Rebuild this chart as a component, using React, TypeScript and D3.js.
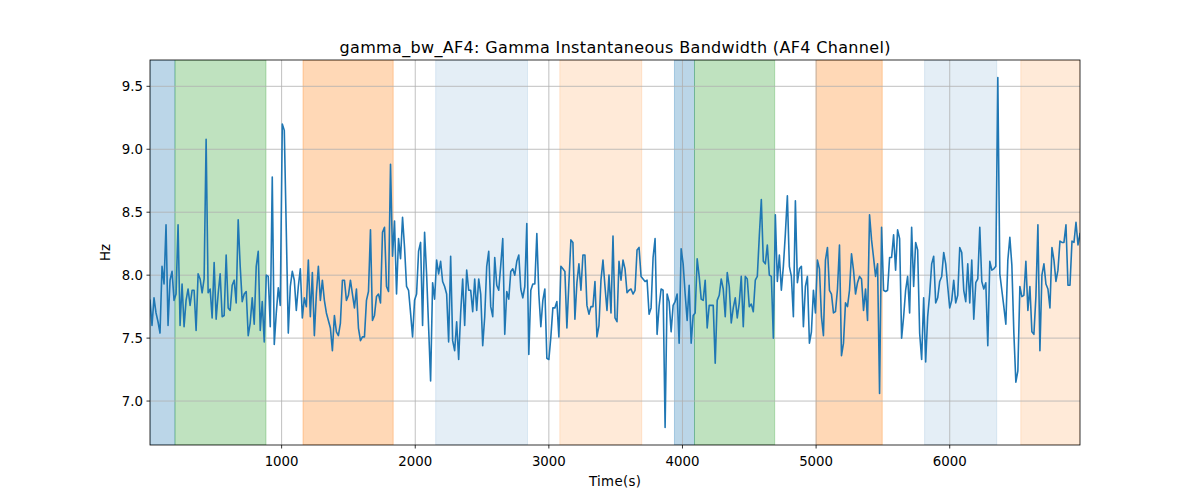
import React from 'react';
import * as d3 from 'd3';

// Gamma instantaneous bandwidth values (Hz), evenly sampled
const values: number[] = [
  7.80, 7.60, 7.82, 7.70, 7.63, 7.54, 8.07, 7.93, 8.40, 7.60, 7.96, 8.03, 7.80, 7.85, 8.40, 7.60, 7.93, 7.59, 7.80, 7.89,
  7.76, 7.88, 7.88, 7.56, 8.01, 7.97, 7.86, 7.97, 9.08, 7.86, 7.89, 7.66, 8.10, 7.65, 7.85, 8.01, 7.67, 7.68, 8.16, 7.74,
  7.72, 7.92, 7.96, 7.78, 8.44, 8.07, 7.79, 7.85, 7.87, 7.52, 7.62, 7.82, 7.61, 8.07, 8.19, 7.56, 7.79, 7.47, 8.00, 7.99,
  7.59, 8.78, 7.45, 7.70, 7.90, 7.76, 9.20, 9.15, 8.35, 7.54, 7.91, 8.03, 7.96, 7.72, 7.91,
  8.05, 7.66, 7.82, 7.75, 8.12, 7.67, 8.02, 7.52, 7.85, 8.07, 7.80, 7.96, 7.80, 7.70, 7.64, 7.58, 7.40, 7.68, 7.55, 7.52,
  7.62, 7.96, 7.96, 7.80, 7.84, 7.96, 7.85, 7.74, 7.89, 7.58, 7.48, 7.51, 7.51, 7.80, 7.87, 8.36, 7.64, 7.68, 7.83, 7.85,
  7.78, 8.34, 8.38, 7.91, 7.87, 8.88, 8.15, 8.43, 7.85, 8.29, 8.13, 8.46, 8.22, 7.91, 7.88, 7.70, 7.51, 7.80, 7.85, 8.19,
  8.26, 7.60, 8.34, 8.01, 7.59, 7.16, 7.94, 7.81, 8.12, 8.01, 8.11, 7.95, 7.91, 7.85, 7.47, 8.15, 7.48,
  7.40, 7.63, 7.33, 7.70, 7.97, 7.60, 8.04, 7.88, 7.88, 7.71, 7.97, 7.72, 7.97, 7.85, 7.44, 7.67, 8.07, 8.19, 7.75, 7.67,
  8.14, 7.92, 7.88, 8.08, 8.29, 7.53, 7.87, 7.81, 8.03, 8.05, 8.00, 8.11, 8.16, 7.89, 7.82, 7.91, 8.41, 7.37, 7.88, 7.93,
  7.93, 8.33, 7.85, 7.59, 7.80, 7.89, 7.34, 7.33, 7.51, 7.74, 7.74, 7.79, 7.51, 8.07, 8.05, 8.03, 7.58, 7.94, 8.28, 8.26,
  7.65, 7.94, 8.09, 7.88, 8.16, 8.16, 7.76, 7.69, 7.75, 7.75, 7.95, 7.51, 7.60, 7.96, 8.12, 7.91, 7.72, 8.00, 7.70,
  8.31, 7.66, 7.63, 8.11, 7.96, 8.12, 8.05, 7.86, 7.88, 7.89, 7.85, 7.88, 8.20, 8.22, 7.99, 7.97, 7.95, 7.96, 7.69, 7.74,
  8.14, 8.29, 7.53, 7.75, 7.89, 7.88, 6.79, 7.85, 7.79, 7.55, 7.76, 7.79, 7.85, 7.46, 8.21, 8.09, 7.85, 7.64, 7.92, 7.46,
  7.68, 7.70, 8.13, 7.99, 7.81, 7.80, 7.96, 7.58, 7.76, 7.76, 7.76, 7.30, 7.80, 7.84, 7.97, 7.89, 7.67, 8.02, 7.91, 7.62,
  7.74, 7.82, 7.66, 7.78, 7.99, 7.59, 7.99, 7.97, 7.75, 7.77, 7.71, 7.96, 7.99, 8.31, 8.60, 8.11, 8.09,
  8.24, 8.00, 7.99, 7.50, 8.48, 7.95, 8.16, 7.88, 8.07, 8.33, 8.63, 8.07, 7.99, 7.67, 8.59, 7.94, 8.05, 8.07, 7.59, 7.91,
  7.99, 7.46, 7.55, 7.88, 7.70, 8.12, 8.05, 7.67, 7.52, 8.12, 8.22, 7.88, 7.85, 7.70, 7.71, 7.89, 8.24, 7.36, 7.46, 7.78,
  7.75, 7.88, 8.17, 8.04, 7.85, 7.94, 7.99, 7.97, 7.72, 7.89, 7.64, 8.48, 8.28, 8.14, 7.99, 8.09, 7.06, 8.38, 7.88, 7.87,
  7.88, 8.14, 8.14, 8.32, 8.04, 8.36, 8.29, 7.50, 7.67, 7.88, 7.99, 7.70, 8.38, 7.91, 8.26, 8.20, 7.54, 7.33, 7.82,
  7.31, 7.67, 7.85, 8.09, 8.15, 7.78, 7.82, 7.95, 7.99, 8.18, 8.09, 7.91, 7.74, 7.80, 7.96, 7.78, 7.84, 8.22, 8.18, 7.88,
  7.79, 8.09, 7.78, 8.12, 7.65, 7.94, 7.97, 8.38, 7.95, 7.89, 7.94, 7.44, 8.11, 8.04, 8.05, 8.07, 9.57, 8.01, 7.88, 7.75,
  7.61, 8.12, 8.30, 8.08, 7.54, 7.15, 7.24, 7.91, 7.83, 7.84, 8.11, 7.72, 7.91, 7.55, 7.53, 7.83, 8.40, 7.40, 8.00, 8.09,
  7.93, 7.89, 7.74, 8.22, 8.12, 7.95, 8.04, 8.27, 8.26, 8.26, 8.40, 7.92, 7.92, 8.27, 8.26, 8.42, 8.24, 8.33,
];
const startTime = 15;
const sampleStep = 15;
const times: number[] = values.map((_, i) => startTime + i * sampleStep);

// Shaded spans
const spanStarts = [15, 202, 1160, 2153, 3082, 3940, 4090, 5000, 5812, 6532];
const spanEnds = [202, 883, 1835, 2840, 3695, 4090, 4690, 5495, 6352, 6990];
const spanColors = ['#1f77b4', '#2ca02c', '#ff7f0e', '#1f77b4', '#ff7f0e', '#1f77b4', '#2ca02c', '#ff7f0e', '#1f77b4', '#ff7f0e'];
const spanAlphas = [0.3, 0.3, 0.3, 0.12, 0.16, 0.3, 0.3, 0.3, 0.12, 0.16];

const xTicks = [1000, 2000, 3000, 4000, 5000, 6000];
const yTicks = [7.0, 7.5, 8.0, 8.5, 9.0, 9.5];

const title = 'gamma_bw_AF4: Gamma Instantaneous Bandwidth (AF4 Channel)';
const xLabel = 'Time(s)';
const yLabel = 'Hz';

export default function App() {
  const W = 1200, H = 500;
  const L = 150, R = 1080, T = 60, B = 445;
  const x = d3.scaleLinear().domain([times[0], times[times.length - 1]]).range([L, R]);
  const y = d3.scaleLinear().domain([6.651, 9.709]).range([B, T]);
  const line = d3.line<number>().x((_, i) => x(times[i])).y((d) => y(d));
  const font = '"DejaVu Sans", sans-serif';
  const clampX = (v: number) => Math.max(L, Math.min(R, x(v)));

  return (
    <svg width={W} height={H} style={{ position: 'absolute', left: 0, top: 0, background: '#fff' }}>
      <defs>
        <clipPath id="plotclip">
          <rect x={L} y={T} width={R - L} height={B - T} />
        </clipPath>
      </defs>
      <g clipPath="url(#plotclip)">
        {spanStarts.map((s, i) => (
          <rect
            key={i}
            x={clampX(s)}
            y={T}
            width={clampX(spanEnds[i]) - clampX(s)}
            height={B - T}
            fill={spanColors[i]}
            fillOpacity={spanAlphas[i]}
            stroke={spanColors[i]}
            strokeOpacity={spanAlphas[i]}
            strokeWidth={1}
          />
        ))}
        {xTicks.map((t) => (
          <line key={'gx' + t} x1={x(t)} x2={x(t)} y1={T} y2={B} stroke="#b0b0b0" strokeWidth={0.8} />
        ))}
        {yTicks.map((t) => (
          <line key={'gy' + t} x1={L} x2={R} y1={y(t)} y2={y(t)} stroke="#b0b0b0" strokeWidth={0.8} />
        ))}
        <path d={line(values) || ''} fill="none" stroke="#1f77b4" strokeWidth={1.6} strokeLinejoin="round" strokeLinecap="square" />
      </g>
      <rect x={L} y={T} width={R - L} height={B - T} fill="none" stroke="#000" strokeWidth={0.8} />
      {xTicks.map((t) => (
        <g key={'tx' + t}>
          <line x1={x(t)} x2={x(t)} y1={B} y2={B + 3.5} stroke="#000" strokeWidth={0.8} />
          <text x={x(t)} y={B + 21} textAnchor="middle" fontFamily={font} fontSize={13.33} fill="#000">{t}</text>
        </g>
      ))}
      {yTicks.map((t) => (
        <g key={'ty' + t}>
          <line x1={L - 3.5} x2={L} y1={y(t)} y2={y(t)} stroke="#000" strokeWidth={0.8} />
          <text x={L - 7} y={y(t)} dy="0.35em" textAnchor="end" fontFamily={font} fontSize={13.33} fill="#000">{t.toFixed(1)}</text>
        </g>
      ))}
      <text x={339.5} y={52.5} textLength={551} lengthAdjust="spacing" fontFamily={font} fontSize={16} fill="#000">{title}</text>
      <text x={589} y={486} textLength={52} lengthAdjust="spacing" fontFamily={font} fontSize={13.33} fill="#000">{xLabel}</text>
      <text transform={`translate(110, ${(T + B) / 2}) rotate(-90)`} textAnchor="middle" fontFamily={font} fontSize={13.33} fill="#000">{yLabel}</text>
    </svg>
  );
}
